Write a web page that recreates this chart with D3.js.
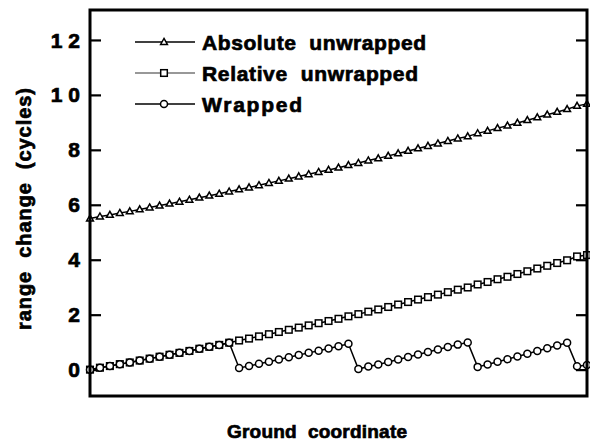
<!DOCTYPE html>
<html><head><meta charset="utf-8">
<script src="https://cdn.jsdelivr.net/npm/d3@7"></script>
<style>html,body{margin:0;padding:0;background:#fff}svg{display:block}text{font-family:"Liberation Sans",Arial,sans-serif;font-weight:bold;fill:#000;stroke:#000;stroke-width:0.7px}</style>
</head><body>
<svg id="c" width="590" height="444"></svg>
<script>
const xIndex = d3.range(51);
const relative = [0,0.07,0.13,0.20,0.26,0.33,0.40,0.47,0.54,0.61,0.68,0.76,0.83,0.90,0.98,
  1.06,1.13,1.21,1.29,1.37,1.45,1.53,1.61,1.69,1.77,1.85,1.94,
  2.02,2.11,2.19,2.28,2.37,2.46,2.55,2.64,2.73,2.82,2.91,2.99,
  3.10,3.19,3.29,3.38,3.48,3.58,3.68,3.78,3.88,3.98,4.12,4.17];
const absolute = [5.50,5.57,5.63,5.70,5.76,5.83,5.90,5.97,6.04,6.11,6.18,6.26,6.33,6.40,6.48,
  6.56,6.63,6.71,6.79,6.87,6.95,7.03,7.11,7.19,7.27,7.35,7.44,
  7.52,7.61,7.69,7.78,7.87,7.96,8.05,8.14,8.23,8.32,8.41,8.49,
  8.60,8.69,8.79,8.88,8.98,9.08,9.18,9.28,9.38,9.48,9.60,9.67];
const wrapped = [0,0.07,0.13,0.20,0.26,0.33,0.40,0.47,0.54,0.61,0.68,0.76,0.83,0.90,0.98,
  0.06,0.13,0.21,0.29,0.37,0.45,0.53,0.61,0.69,0.77,0.85,0.94,
  0.02,0.11,0.19,0.28,0.37,0.46,0.55,0.64,0.73,0.82,0.91,0.99,
  0.10,0.19,0.29,0.38,0.48,0.58,0.68,0.78,0.88,0.98,0.12,0.17];
const yTicks = [0,2,4,6,8,10,12];
const yTickLabels = ["0","2","4","6","8","1 0","1 2"];
const seriesNames = ["Absolute  unwrapped","Relative  unwrapped","Wrapped"];

const svg = d3.select("#c");
const L=90, R=587, T=10, B=396;
const x = d3.scaleLinear().domain([0,50]).range([L,R]);
const y = d3.scaleLinear().domain([-0.96,13.09]).range([B,T]);

const yAxisL = d3.axisRight(y).tickValues(yTicks).tickSize(11).tickFormat("");
svg.append("g").attr("transform",`translate(${L},0)`).call(yAxisL)
  .call(g=>{g.select(".domain").remove();g.selectAll("line").attr("stroke","#000").attr("stroke-width",2.2);});
const yAxisR = d3.axisLeft(y).tickValues(yTicks).tickSize(11).tickFormat("");
svg.append("g").attr("transform",`translate(${R},0)`).call(yAxisR)
  .call(g=>{g.select(".domain").remove();g.selectAll("line").attr("stroke","#000").attr("stroke-width",2.2);});

svg.append("g").selectAll("text").data(yTicks).join("text")
  .attr("x",80).attr("y",d=>y(d)).attr("dy","0.36em").attr("text-anchor","end")
  .style("font-size","21px").style("white-space","pre").text((d,i)=>yTickLabels[i]);

const line = d3.line().x((d,i)=>x(xIndex[i])).y(d=>y(d));
const plot = svg.append("g");

function drawSeries(vals, marker){
  plot.append("path").attr("d",line(vals)).attr("fill","none").attr("stroke","#000").attr("stroke-width",1.5);
  const g = plot.append("g");
  vals.forEach((v,i)=>marker(g, x(xIndex[i]), y(v)));
}
const tri = (g,cx,cy)=>g.append("path").attr("d",`M${cx},${cy-3.6}L${cx+3.4},${cy+2.4}L${cx-3.4},${cy+2.4}Z`)
  .attr("fill","#fff").attr("stroke","#000").attr("stroke-width",1.5);
const sq = (g,cx,cy)=>g.append("rect").attr("x",cx-3.3).attr("y",cy-3.3).attr("width",6.6).attr("height",6.6)
  .attr("fill","#fff").attr("stroke","#000").attr("stroke-width",1.5);
const circ = (g,cx,cy)=>g.append("circle").attr("cx",cx).attr("cy",cy).attr("r",3.5)
  .attr("fill","#fff").attr("stroke","#000").attr("stroke-width",1.5);

drawSeries(absolute, tri);
drawSeries(relative, sq);
drawSeries(wrapped, circ);

svg.append("rect").attr("x",L).attr("y",T).attr("width",R-L).attr("height",B-T)
  .attr("fill","none").attr("stroke","#000").attr("stroke-width",3);

const legY=[42,73,104], legLen=[224,216,100];
const markers=[tri,sq,circ];
seriesNames.forEach((n,i)=>{
  svg.append("line").attr("x1",135).attr("x2",195).attr("y1",legY[i]).attr("y2",legY[i])
    .attr("stroke",i==1?"#333":"#000").attr("stroke-width",i==1?1.1:1.7);
  markers[i](svg,164,legY[i]);
  svg.append("text").attr("x",202).attr("y",legY[i]).attr("dy","0.36em")
    .attr("textLength",legLen[i]).attr("lengthAdjust","spacing")
    .style("font-size","21px").style("white-space","pre").text(n);
});

svg.append("text").attr("x",317).attr("y",438).attr("text-anchor","middle")
  .attr("textLength",180).attr("lengthAdjust","spacing")
  .style("font-size","19px").style("white-space","pre").text("Ground  coordinate");
svg.append("text").attr("transform","translate(31,209) rotate(-90)").attr("text-anchor","middle")
  .attr("textLength",242).attr("lengthAdjust","spacing")
  .style("font-size","20px").style("white-space","pre").text("range  change  (cycles)");
</script>
</body></html>
